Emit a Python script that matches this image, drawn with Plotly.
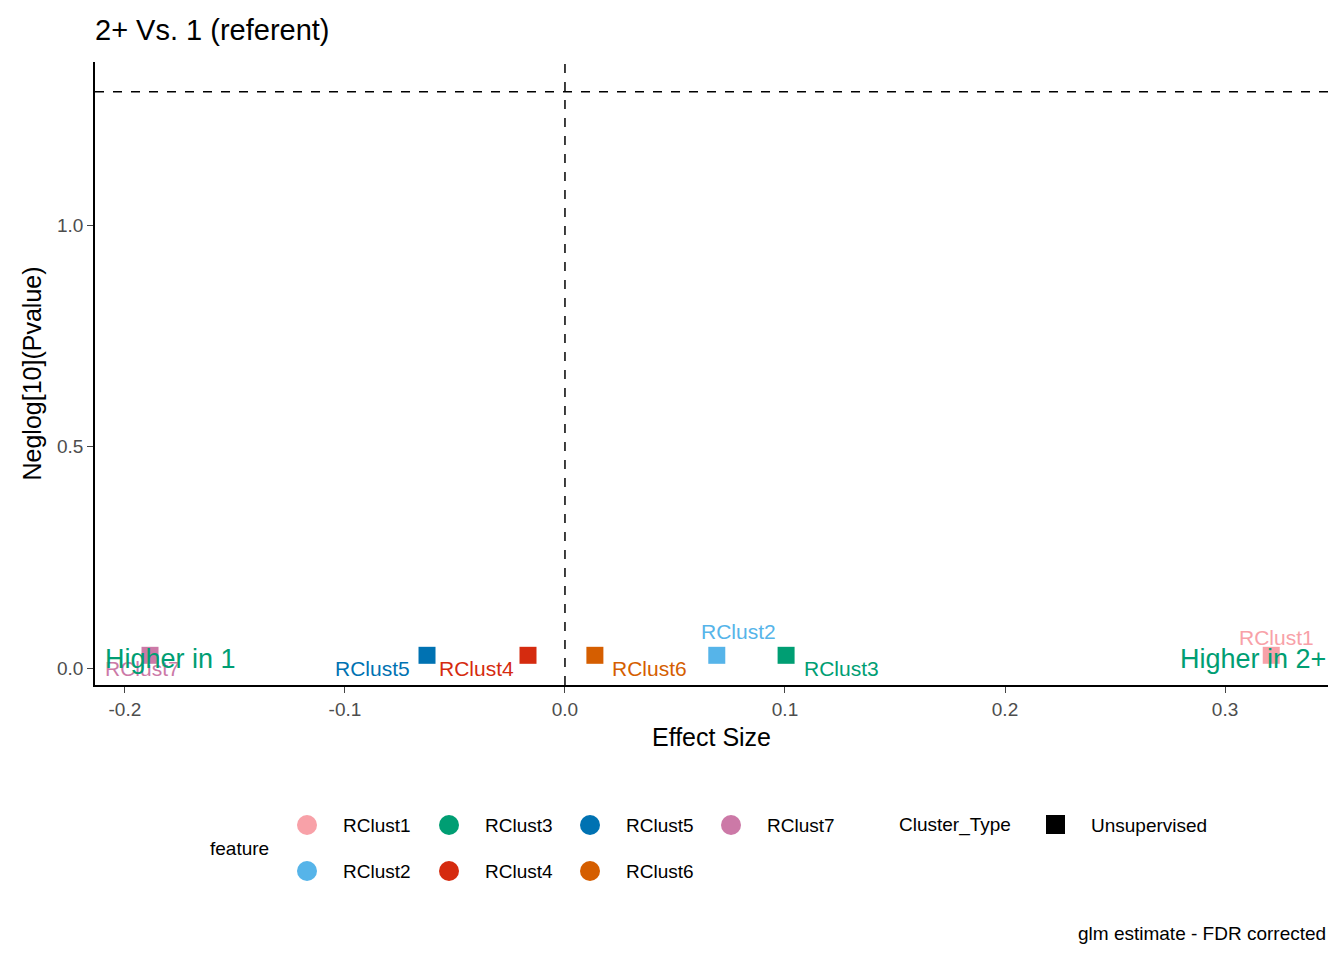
import plotly.graph_objects as go

features = ["RClust1", "RClust2", "RClust3", "RClust4", "RClust5", "RClust6", "RClust7"]
effect = [0.321, 0.069, 0.1005, -0.0168, -0.0627, 0.0136, -0.1886]
neglog_p = [0.029, 0.029, 0.029, 0.029, 0.029, 0.029, 0.029]
colors = ["#F8A1A8", "#56B4E9", "#009E73", "#D52B0F", "#0072B2", "#D55E00", "#CC79A7"]
# label offsets in pixels (ggrepel style placement)
label_shift = {"RClust1": (5, 18), "RClust2": (22, 24), "RClust3": (55, -13), "RClust4": (-52, -13),
               "RClust5": (-55, -13), "RClust6": (55, -13), "RClust7": (-8, -13)}

OFF = 8  # page body margin
W, H = 1344 - 2 * OFF, 960 - 2 * OFF
L, R, T, B = 95 - OFF, 16 - OFF, 62 - OFF, 275 - OFF
pw, ph = W - L - R, H - T - B


def px(x):
    return (x - OFF - L) / pw


def py(y):
    return (H - B - (y - OFF)) / ph


fig = go.Figure()
for f, x, y, c in zip(features, effect, neglog_p, colors):
    fig.add_trace(go.Scatter(x=[x], y=[y], mode="markers", name=f, showlegend=False,
                             marker=dict(symbol="square", size=17, color=c)))

font = "Liberation Sans, Arial, sans-serif"
ann = []
for f, x, y, c in zip(features, effect, neglog_p, colors):
    dx, dy = label_shift[f]
    ann.append(dict(x=x, y=y, text=f, showarrow=False, xshift=dx, yshift=dy,
                    font=dict(size=21, color=c, family=font)))
ann.append(dict(x=-0.21, y=0.02, text="Higher in 1", showarrow=False, xanchor="left",
                font=dict(size=27, color="#009E73", family=font)))
ann.append(dict(x=0.3468, y=0.02, text="Higher in 2+", showarrow=False, xanchor="right",
                font=dict(size=27, color="#009E73", family=font)))

shapes = [
    dict(type="line", xref="paper", yref="y", x0=0, x1=1, y0=1.301, y1=1.301,
         line=dict(dash="dash", color="black", width=1.5)),
    dict(type="line", xref="x", yref="paper", x0=0, x1=0, y0=0, y1=1,
         line=dict(dash="dash", color="black", width=1.5)),
]

# legend built by hand
leg_cols = [307, 449, 590, 731]
leg_rows = [825, 871]


def label(x, y, text, anchor="left"):
    ann.append(dict(xref="paper", yref="paper", x=x, y=y, text=text, showarrow=False,
                    xanchor=anchor, yanchor="middle", font=dict(size=19, color="black", family=font)))


label(px(208), py(848), "feature")
for i, (f, c) in enumerate(zip(features, colors)):
    cx, cy = leg_cols[i // 2], leg_rows[i % 2]
    shapes.append(dict(type="circle", xref="paper", yref="paper", x0=px(cx - 10), x1=px(cx + 10),
                       y0=py(cy + 10), y1=py(cy - 10), fillcolor=c, line=dict(width=0)))
    label(px(cx + 34), py(cy), f)
label(px(897), py(825), "Cluster_Type")
shapes.append(dict(type="rect", xref="paper", yref="paper", x0=px(1046), x1=px(1065),
                   y0=py(834), y1=py(815), fillcolor="black", line=dict(width=0)))
label(px(1089), py(825), "Unsupervised")
label(1, py(933), "glm estimate - FDR corrected", anchor="right")

fig.update_layout(
    width=W, height=H, margin=dict(l=L, r=R, t=T, b=B),
    plot_bgcolor="white", paper_bgcolor="white",
    title=dict(text="2+ Vs. 1 (referent)", x=(95 - OFF) / W, xanchor="left",
               y=1 - (30 - OFF) / H, yanchor="middle",
               font=dict(size=29, color="black", family=font)),
    font=dict(family=font),
    annotations=ann, shapes=shapes,
)
fig.update_xaxes(range=[-0.2136, 0.3468], tickvals=[-0.2, -0.1, 0.0, 0.1, 0.2, 0.3],
                 ticktext=["-0.2", "-0.1", "0.0", "0.1", "0.2", "0.3"], showgrid=False, zeroline=False,
                 showline=True, linecolor="black", linewidth=1.5, ticks="outside", ticklen=6,
                 tickfont=dict(size=19, color="#4D4D4D"),
                 title=dict(text="Effect Size", font=dict(size=25, color="black"), standoff=10))
fig.update_yaxes(range=[-0.038, 1.368], tickvals=[0, 0.5, 1.0], ticktext=["0.0", "0.5", "1.0"],
                 showgrid=False, zeroline=False, showline=True, linecolor="black", linewidth=1.5,
                 ticks="outside", ticklen=6, tickfont=dict(size=19, color="#4D4D4D"),
                 title=dict(text="Neglog[10](Pvalue)", font=dict(size=25, color="black"), standoff=8))

fig.write_html("out.html")
